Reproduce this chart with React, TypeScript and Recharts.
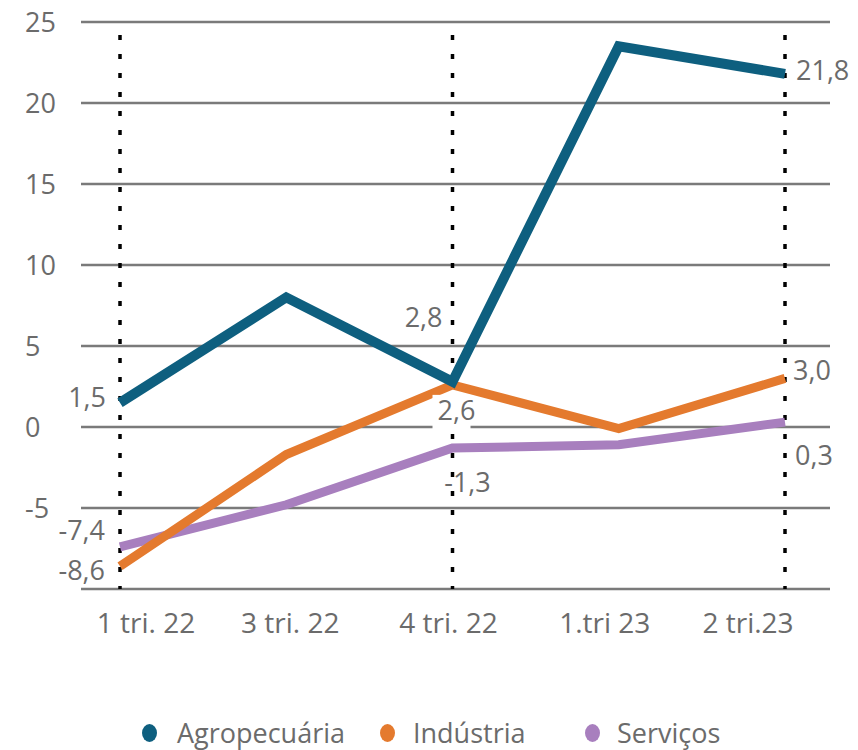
import React from 'react';
import { LineChart, Line, XAxis, YAxis, CartesianGrid, ReferenceLine, LabelList, Legend } from 'recharts';

const categories = ['1 tri. 22', '3 tri. 22', '4 tri. 22', '1.tri 23', '2 tri.23'];
const agro = [1.5, 8.0, 2.8, 23.5, 21.8];
const industria = [-8.6, -1.7, 2.6, -0.1, 3.0];
const servicos = [-7.4, -4.8, -1.3, -1.1, 0.3];
const yTicks = [-10, -5, 0, 5, 10, 15, 20, 25];
const hiddenYTickLabels = [-10];
const labeledIdx = [0, 2, 4];
const dottedCats = ['1 tri. 22', '4 tri. 22', '2 tri.23'];
const seriesNames = ['Agropecuária', 'Indústria', 'Serviços'];

// horizontal nudges of the category labels (layout only)
const xTickNudge = [26, 4, -4, -14, -37];

const COLORS = { agro: '#0e5f7f', ind: '#e47a2e', serv: '#a87fbe' };
const TEXT = '#6b6b6b';
const FONT = '"Open Sans", sans-serif';
const FS = 27;

const data = categories.map((c, i) => ({
  cat: c,
  agro: agro[i],
  ind: industria[i],
  serv: servicos[i],
}));

const fmt = (v: number) => v.toFixed(1).replace('.', ',');

type LabelPos = { dx: number; dy: number; anchor: 'start' | 'middle' | 'end'; bg?: boolean };

const labelPos: Record<string, Record<number, LabelPos>> = {
  agro: {
    0: { dx: -14, dy: -5, anchor: 'end' },
    2: { dx: -10, dy: -64, anchor: 'end' },
    4: { dx: 11, dy: -4, anchor: 'start' },
  },
  ind: {
    0: { dx: -15, dy: 4, anchor: 'end' },
    2: { dx: 4, dy: 25, anchor: 'middle', bg: true },
    4: { dx: 8, dy: -8, anchor: 'start' },
  },
  serv: {
    0: { dx: -15, dy: -17, anchor: 'end' },
    2: { dx: 15, dy: 34, anchor: 'middle' },
    4: { dx: 10, dy: 33, anchor: 'start' },
  },
};

const makeLabel = (key: string) => (props: any) => {
  const { x, y, value, index } = props;
  if (!labeledIdx.includes(index)) return null;
  const p = labelPos[key][index];
  if (!p) return null;
  return (
    <g>
      {p.bg && <rect x={x - 20} y={y + 10} width={38} height={38} fill="#ffffff" />}
      <text
        x={x + p.dx}
        y={y + p.dy}
        dy="0.36em"
        textAnchor={p.anchor}
        fill={TEXT}
        fontSize={FS}
        fontFamily={FONT}
      >
        {fmt(Number(value))}
      </text>
    </g>
  );
};

const YTick = (props: any) => {
  const { y, payload } = props;
  if (hiddenYTickLabels.includes(payload.value)) return null;
  return (
    <text x={17} y={y} dy="0.36em" textAnchor="start" fill={TEXT} fontSize={FS} fontFamily={FONT}>
      {payload.value}
    </text>
  );
};

const XTick = (props: any) => {
  const { x, y, payload, index } = props;
  const nudge = xTickNudge[index] ?? 0;
  return (
    <text x={x + nudge} y={y + 44} textAnchor="middle" fill={TEXT} fontSize={28} fontFamily={FONT}>
      {payload.value}
    </text>
  );
};

const legendItems = [
  { name: seriesNames[0], color: COLORS.agro, iconX: 142, textX: 169 },
  { name: seriesNames[1], color: COLORS.ind, iconX: 380, textX: 405 },
  { name: seriesNames[2], color: COLORS.serv, iconX: 585, textX: 609 },
];

const LegendContent = () => (
  <div style={{ position: 'relative', width: 858, height: 50 }}>
    {legendItems.map((it) => (
      <React.Fragment key={it.name}>
        <span
          style={{
            position: 'absolute',
            left: it.iconX - 8,
            top: 16,
            width: 15,
            height: 18,
            borderRadius: '50%',
            background: it.color,
          }}
        />
        <span
          style={{
            position: 'absolute',
            left: it.textX,
            top: 5,
            fontFamily: FONT,
            fontSize: FS,
            lineHeight: '40px',
            color: TEXT,
            whiteSpace: 'nowrap',
          }}
        >
          {it.name}
        </span>
      </React.Fragment>
    ))}
  </div>
);

export default function App() {
  return (
    <div style={{ width: 850, height: 750, marginTop: -8, overflow: 'hidden' }}>
      <LineChart
        width={850}
        height={750}
        data={data}
        margin={{ top: 22, right: 28, left: 0, bottom: 101 }}
      >
        <CartesianGrid vertical={false} horizontal stroke="#7a7a7a" strokeWidth={2.5} />
        <XAxis
          dataKey="cat"
          padding={{ left: 39, right: 45 }}
          axisLine={false}
          tickLine={false}
          tickSize={0}
          tickMargin={0}
          height={60}
          interval={0}
          tick={<XTick />}
        />
        <YAxis
          type="number"
          domain={[-10, 25]}
          ticks={yTicks}
          interval={0}
          axisLine={false}
          tickLine={false}
          tickSize={0}
          width={73}
          tick={<YTick />}
        />
        {dottedCats.map((c) => (
          <ReferenceLine
            key={c}
            segment={[
              { x: c, y: 24.2 },
              { x: c, y: -10 },
            ]}
            stroke="#000000"
            strokeWidth={3.5}
            strokeDasharray="5 14"
          />
        ))}
        <Line
          type="linear"
          dataKey="serv"
          name={seriesNames[2]}
          stroke={COLORS.serv}
          strokeWidth={9}
          dot={false}
          activeDot={false}
          isAnimationActive={false}
        >
          <LabelList dataKey="serv" content={makeLabel('serv')} />
        </Line>
        <Line
          type="linear"
          dataKey="ind"
          name={seriesNames[1]}
          stroke={COLORS.ind}
          strokeWidth={9}
          dot={false}
          activeDot={false}
          isAnimationActive={false}
        >
          <LabelList dataKey="ind" content={makeLabel('ind')} />
        </Line>
        <Line
          type="linear"
          dataKey="agro"
          name={seriesNames[0]}
          stroke={COLORS.agro}
          strokeWidth={10}
          dot={false}
          activeDot={false}
          isAnimationActive={false}
        >
          <LabelList dataKey="agro" content={makeLabel('agro')} />
        </Line>
        <Legend
          verticalAlign="middle"
          align="center"
          content={<LegendContent />}
          wrapperStyle={{ top: 708, left: 0, width: 850, height: 50 }}
        />
      </LineChart>
    </div>
  );
}
